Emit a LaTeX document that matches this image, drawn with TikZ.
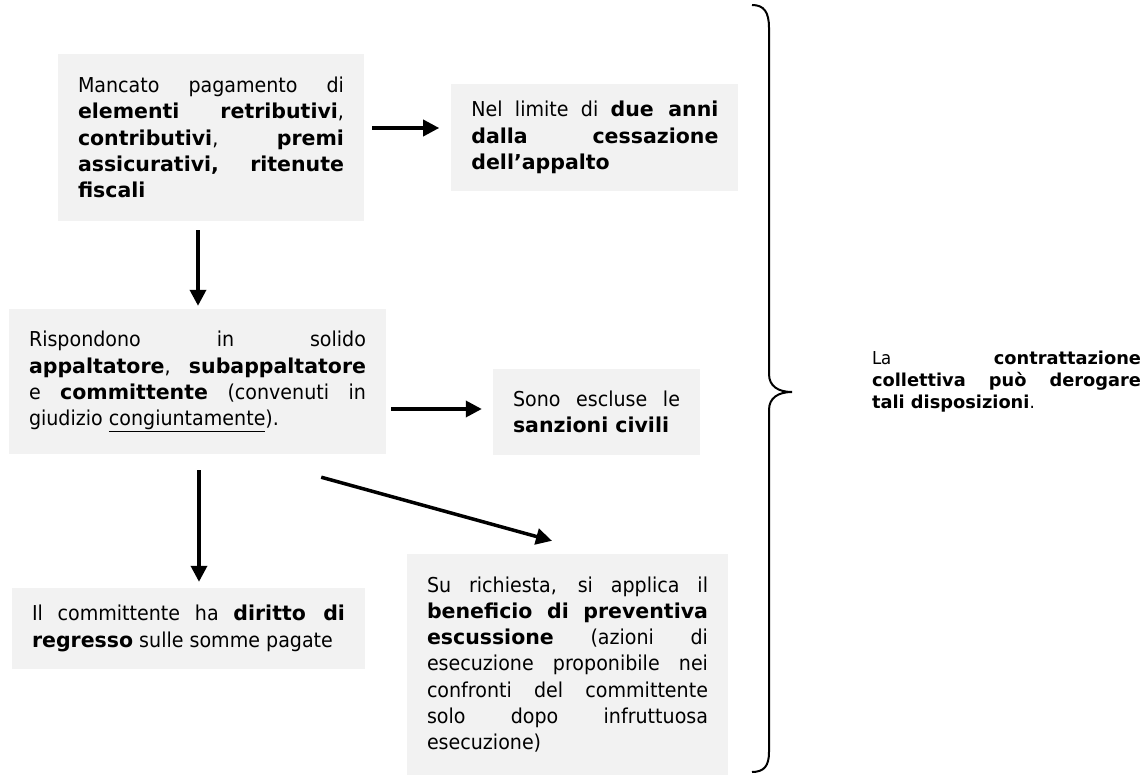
\documentclass[tikz,border=0pt]{standalone}
\usepackage{fontspec}
\setmainfont{DejaVu Sans}[UprightFeatures={FakeStretch=0.93}]
\usetikzlibrary{arrows.meta,positioning}

\definecolor{boxgray}{HTML}{F2F2F2}
\newcommand{\cellfont}{\fontsize{20.5}{26.3}\selectfont\hyphenpenalty=10000\tolerance=10000\parindent=0pt}
\newcommand{\notefont}{\fontsize{17.8}{22}\selectfont\hyphenpenalty=10000\tolerance=10000\parindent=0pt}

\tikzset{
  box/.style={fill=boxgray, inner xsep=20pt, inner ysep=0pt, align=justify, font=\cellfont},
  arrow/.style={-{Triangle[length=16pt,width=16pt]}, line width=3.5pt},
  brace/.style={line width=2pt}
}

\begin{document}
\begin{tikzpicture}[x=1pt, y=-1pt]
        \useasboundingbox (0,0) rectangle (1148,775);

        \node (mancato) [box, text width=266pt, minimum height=167pt] at (211,137.5)
            {Mancato pagamento di\linebreak \textbf{elementi retributivi},\linebreak
             \textbf{contributivi}, \textbf{premi}\linebreak \textbf{assicurativi, ritenute}\linebreak \textbf{fiscali}};
        \node (limite) [box, text width=247pt, minimum height=107pt, right=87pt of mancato]
            {Nel limite di \textbf{due anni}\linebreak \textbf{dalla cessazione}\linebreak \textbf{dell’appalto}};
        \node (solido) [box, text width=337pt, minimum height=145pt] at (197.5,381.5)
            {Rispondono in solido\linebreak \textbf{appaltatore}, \textbf{subappaltatore}\linebreak
             e \textbf{committente} (convenuti in\linebreak giudizio \underline{congiuntamente}).};
        \node (escluse) [box, text width=167pt, minimum height=86pt] at (596.5,412)
            {Sono escluse le\linebreak \textbf{sanzioni civili}};
        \node (regresso) [box, text width=313pt, minimum height=81pt] at (188.5,628.5)
            {Il committente ha \textbf{diritto di}\linebreak \textbf{regresso} sulle somme pagate};
        \node (beneficio) [box, text width=281pt, minimum height=221pt] at (567.5,664.5)
            {Su richiesta, si applica il\linebreak \textbf{beneficio di preventiva}\linebreak
             \textbf{escussione} (azioni di\linebreak esecuzione proponibile nei\linebreak
             confronti del committente\linebreak solo dopo infruttuosa\linebreak esecuzione)};
        \node (deroga) [text width=269pt, align=justify, font=\notefont, inner sep=0pt] at (1006.5,381.5)
            {La \textbf{contrattazione}\linebreak \textbf{collettiva può derogare}\linebreak \textbf{tali disposizioni}.};

        % 
        \draw[arrow] ([shift={(8,-9.5)}]mancato.east) -- ([shift={(-12,-9.5)}]limite.west);
        \draw[arrow] ([shift={(-13,9)}]mancato.south) -- ([shift={(0.5,-3)}]solido.north);
        %
        \draw[arrow] ([shift={(5,27.5)}]solido.east) -- ([shift={(-11,-3)}]escluse.west);
        \draw[arrow] ([shift={(1.5,16)}]solido.south) -- ([shift={(10.5,-6)}]regresso.north);
        \draw[arrow] ([shift={(-65,23)}]solido.south east) -- ([shift={(-15.5,-13)}]beneficio.north);

        % brace
        \draw[brace] (752,5) .. controls (764,5) and (769,12) .. (769,28) -- (769,374)
            .. controls (769,386) and (778,392) .. (792,392)
            .. controls (778,392) and (769,398) .. (769,410) -- (769,752)
            .. controls (769,766) and (764,772) .. (752,772);
    \end{tikzpicture}
\end{document}
